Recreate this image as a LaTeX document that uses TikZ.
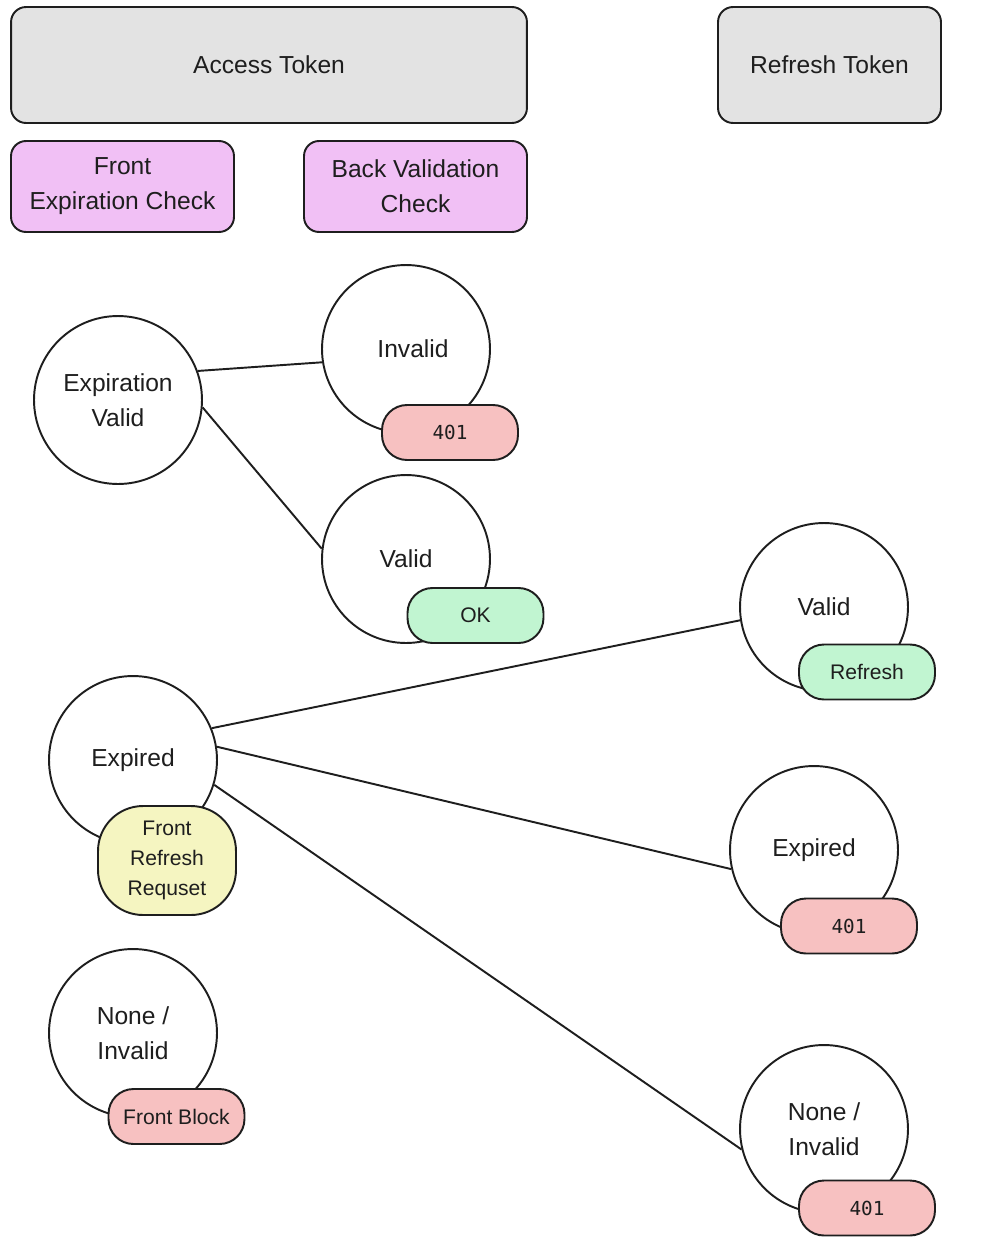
\documentclass[tikz,border=0pt]{standalone}
\usepackage{fontspec}
\setmainfont{Liberation Sans}
\setmonofont{DejaVu Sans Mono}

\definecolor{tratto}{HTML}{1E1E1E}
\definecolor{grigio}{HTML}{E3E3E3}
\definecolor{viola}{HTML}{F1C0F5}
\definecolor{rosso}{HTML}{F7C1C1}
\definecolor{verde}{HTML}{C1F5D1}
\definecolor{giallo}{HTML}{F5F5C1}

\begin{document}
\begin{tikzpicture}[x=0.02cm, y=-0.02cm, line width=1.1pt,
    testo/.style={text=tratto, align=center, font=\fontsize{14}{20}\selectfont},
    box/.style={testo, draw=tratto, rounded corners=0.3cm, inner sep=0pt},
    stato/.style={testo, draw=tratto, fill=white, circle, minimum size=3.36cm, inner sep=0pt},
    pill/.style={draw=tratto, rounded corners=0.5cm, minimum width=2.72cm, minimum height=1.1cm,
                 inner sep=0pt, text=tratto, align=center, font=\fontsize{12}{17}\selectfont},
    codice/.style={pill, font=\ttfamily\fontsize{11}{14}\selectfont}]

    \useasboundingbox (0,0) rectangle (988,1258);

    % ----------------------------------------------------
    % 1. Intestazioni
    % ----------------------------------------------------
    \node[box, fill=grigio, minimum width=10.32cm, minimum height=2.32cm] (access) at (269,65) {Access Token};
    \node[box, fill=grigio, minimum width=4.46cm, minimum height=2.32cm] (refresh) at (829.5,65) {Refresh Token};
    \node[box, fill=viola, minimum width=4.46cm, minimum height=1.82cm] (front) at (122.5,186.5) {Front\\Expiration Check};
    \node[box, fill=viola, minimum width=4.46cm, minimum height=1.82cm] (back) at (415.5,186.5) {Back Validation\\Check};

    % ----------------------------------------------------
    % 2. Controllo scadenza lato front
    % ----------------------------------------------------
    \node[stato] (expval) at (118,400) {Expiration\\Valid};
    \node[stato] (inv) at (406,349) {\hspace*{8pt}Invalid};
    \node[stato] (val) at (406,559) {Valid};
    \node[codice, fill=rosso] (inv401) at (450,432.5) {401};
    \node[pill, fill=verde] (ok) at (475.5,615.5) {OK};

    \draw[tratto] (expval.20) -- (inv.189);
    \draw[tratto] (expval.-5) -- (val.173);

    % ----------------------------------------------------
    % 3. Token scaduto e refresh
    % ----------------------------------------------------
    \node[stato] (exp) at (133,760) {Expired};
    \node[pill, fill=giallo, minimum width=2.76cm, minimum height=2.18cm, rounded corners=0.9cm] (frr) at (167,860.5) {Front\\Refresh\\Requset};

    \node[stato] (rval) at (824,607) {Valid};
    \node[pill, fill=verde] (rref) at (867,672) {Refresh};
    \node[stato] (rexp) at (814,850) {Expired};
    \node[codice, fill=rosso] (rexp401) at (849,926) {401};
    \node[stato] (rnone) at (824,1129) {None /\\Invalid};
    \node[codice, fill=rosso] (rnone401) at (867,1208) {401};

    \draw[tratto] (exp.22) -- (rval.189);
    \draw[tratto] (exp.9) -- (rexp.193);
    \draw[tratto] (exp.-17) -- (rnone.194);

    % ----------------------------------------------------
    % 4. Token assente o non valido
    % ----------------------------------------------------
    \node[stato] (none) at (133,1033) {None /\\Invalid};
    \node[pill, fill=rosso] (block) at (176.5,1116.5) {Front Block};

\end{tikzpicture}
\end{document}
